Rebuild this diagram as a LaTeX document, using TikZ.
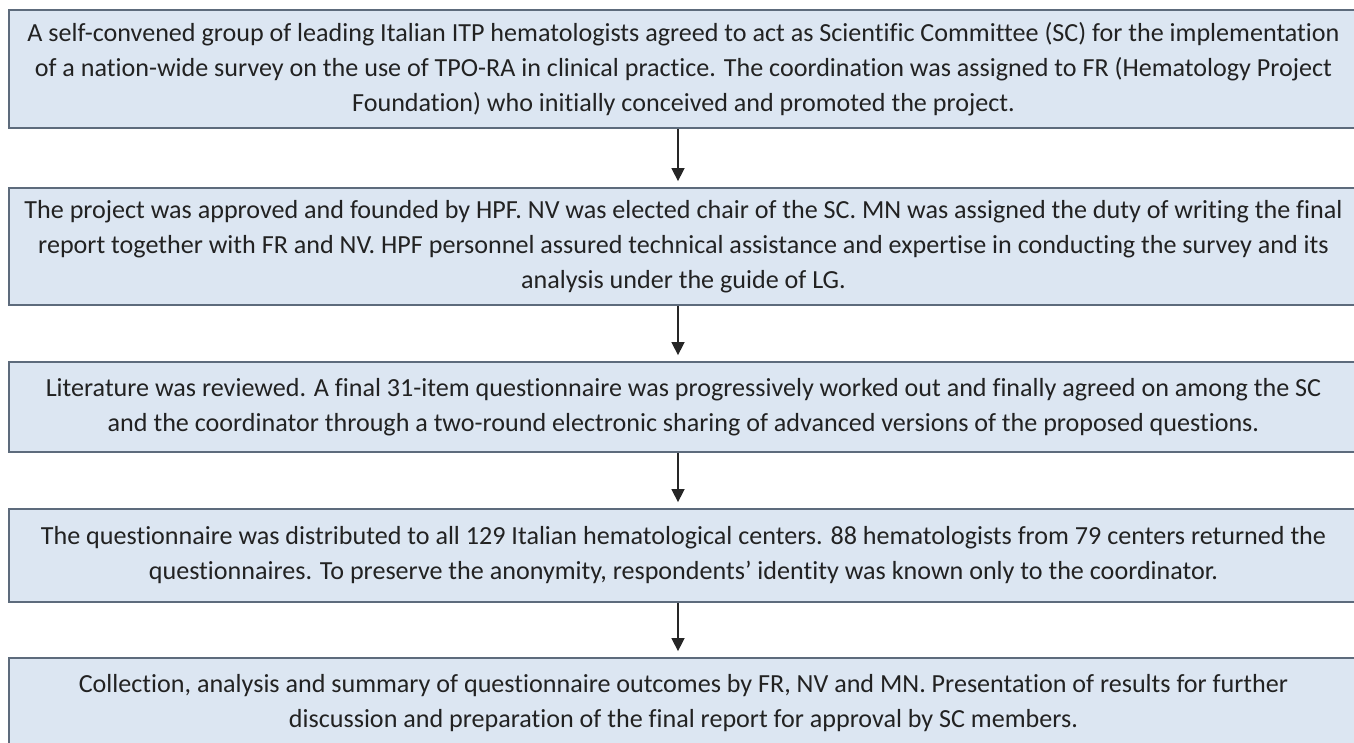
\documentclass[tikz,border=0pt]{standalone}
\usepackage{fontspec}
\setmainfont{Carlito}[Ligatures=NoCommon]
\usetikzlibrary{positioning,arrows.meta}
\definecolor{boxfill}{HTML}{DCE6F2}
\definecolor{boxline}{HTML}{5D6B7C}
\definecolor{boxtext}{HTML}{222222}

\begin{document}
\begin{tikzpicture}[x=1pt,y=-1pt,>={Triangle[width=13pt,length=13pt]},
  stage/.style={draw=boxline,line width=1.8pt,fill=boxfill,text=boxtext,align=center,
    minimum width=1349pt,inner sep=0pt,font=\fontsize{26.1}{35}\selectfont},
  flow/.style={->,line width=1.5pt,black!85,shorten >=6pt}]
  \path[use as bounding box,clip] (0,0) rectangle (1354,742);
  \fill[white] (0,0) rectangle (1354,742);
  \def\cx{683.5}
  \node[stage,minimum height=118pt] (committee) at (\cx,69)
    {A self-convened group of leading Italian ITP hematologists agreed to act as Scientific Committee (SC) for the implementation\\
     of a nation-wide survey on the use of TPO-RA in clinical practice. The coordination was assigned to FR (Hematology Project\\
     Foundation) who initially conceived and promoted the project.};
  \node[stage,minimum height=117pt] (approval) at (\cx,246.5)
    {The project was approved and founded by HPF. NV was elected chair of the SC. MN was assigned the duty of writing the final\\
     report together with FR and NV. HPF personnel assured technical assistance and expertise in conducting the survey and its\\
     analysis under the guide of LG.};
  \node[stage,minimum height=90pt] (questionnaire) at (\cx,407)
    {Literature was reviewed. A final 31-item questionnaire was progressively worked out and finally agreed on among the SC\\
     and the coordinator through a two-round electronic sharing of advanced versions of the proposed questions.};
  \node[stage,minimum height=93pt] (distribution) at (\cx,555.5)
    {The questionnaire was distributed to all 129 Italian hematological centers. 88 hematologists from 79 centers returned the\\
     questionnaires. To preserve the anonymity, respondents’ identity was known only to the coordinator.};
  \node[stage,minimum height=90pt] (outcomes) at (\cx,703)
    {Collection, analysis and summary of questionnaire outcomes by FR, NV and MN. Presentation of results for further\\
     discussion and preparation of the final report for approval by SC members.};
  % arrows between the stages
  \foreach \a/\b in {committee/approval,approval/questionnaire,questionnaire/distribution,distribution/outcomes}
    \draw[flow] ([xshift=-5.5pt]\a.south) -- ([xshift=-5.5pt]\b.north);
\end{tikzpicture}
\end{document}
